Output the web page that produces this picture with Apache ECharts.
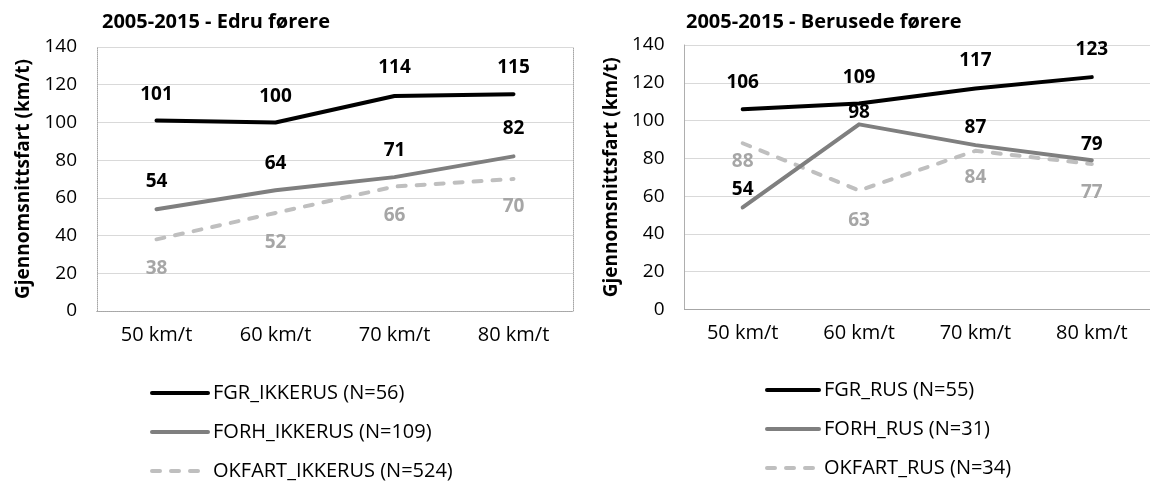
<!DOCTYPE html>
<html>
<head>
<meta charset="utf-8">
<script src="https://cdn.jsdelivr.net/npm/echarts@6/dist/echarts.min.js"></script>
<style>html,body{margin:0;padding:0;background:#fff}#c{width:1150px;height:481px}</style>
</head>
<body>
<div id="c"></div>
<script>
// ---- data ----
const categories = ['50 km/t', '60 km/t', '70 km/t', '80 km/t'];
const titleLeft = '2005-2015 - Edru førere';
const titleRight = '2005-2015 - Berusede førere';
const yAxisTitle = 'Gjennomsnittsfart (km/t)';

const edruNames = ['FGR_IKKERUS (N=56)', 'FORH_IKKERUS (N=109)', 'OKFART_IKKERUS (N=524)'];
const edruFGR = [101, 100, 114, 115];
const edruFORH = [54, 64, 71, 82];
const edruOKFART = [38, 52, 66, 70];

const rusNames = ['FGR_RUS (N=55)', 'FORH_RUS (N=31)', 'OKFART_RUS (N=34)'];
const rusFGR = [106, 109, 117, 123];
const rusFORH = [54, 98, 87, 79];
const rusOKFART = [88, 63, 84, 77];

// ---- label placement (vertical offsets of value labels, px) ----
const offEdru = [[-26, -26, -28, -27], [-28, -27, -27, -28], [29, 30, 29, 28]];
const offRus = [[-27, -26, -28, -28], [-18, -12, -18, -16], [18, 30, 27, 29]];

const FONT = 'Open Sans';
const colors = ['#000000', '#7f7f7f', '#bfbfbf'];
const labelColors = ['#000000', '#000000', '#a6a6a6'];
const BORDER = '#a6a6a6';

function mkData(vals, offs) {
  return vals.map((v, i) => ({ value: v, label: { offset: [0, offs[i]] } }));
}

function mkSeries(name, vals, offs, k, axisIdx) {
  return {
    type: 'line', name: name,
    xAxisIndex: axisIdx, yAxisIndex: axisIdx,
    data: mkData(vals, offs),
    symbol: 'circle', symbolSize: 0.1, showSymbol: true,
    itemStyle: { color: colors[k] },
    lineStyle: {
      color: colors[k], width: 4, cap: 'round', join: 'round',
      type: k === 2 ? [8, 11] : 'solid'
    },
    label: {
      show: true, position: 'inside',
      color: labelColors[k], fontFamily: FONT, fontWeight: 'bold', fontSize: 19
    },
    emphasis: { disabled: true },
    animation: false, z: 3 - k
  };
}

const grids = [
  { left: 97, top: 47, width: 476, height: 264 },
  { left: 684.5, top: 45, width: 476, height: 264.5 }
];

const xAxes = [], yAxes = [];
[0, 1].forEach(g => {
  xAxes.push({
    type: 'category', gridIndex: g, data: categories, boundaryGap: true,
    axisLine: { show: true, lineStyle: { color: BORDER, type: 'dotted', width: 1 } },
    axisTick: { show: false },
    axisLabel: { color: '#000', fontFamily: FONT, fontSize: 20, margin: 14 }
  });
  yAxes.push({
    type: 'value', gridIndex: g, min: 0, max: 140, interval: 20,
    name: yAxisTitle, nameLocation: 'middle', nameGap: g === 0 ? 64 : 63,
    nameTextStyle: { color: '#000', fontFamily: FONT, fontWeight: 'bold', fontSize: 19 },
    axisLine: { show: true, lineStyle: { color: BORDER, type: 'dotted', width: 1 } },
    axisTick: { show: false },
    axisLabel: { color: '#000', fontFamily: FONT, fontSize: 19, margin: 20 },
    splitLine: { show: true, lineStyle: { color: '#d9d9d9', width: 1 } }
  });
});
// border axes (top and right edges of plot areas)
[0, 1].forEach(g => {
  xAxes.push({
    type: 'category', gridIndex: g, data: categories, position: 'top',
    axisLine: { show: true, lineStyle: { color: BORDER, type: 'dotted', width: 1 } },
    axisTick: { show: false }, axisLabel: { show: false }, splitLine: { show: false }
  });
  yAxes.push({
    type: 'value', gridIndex: g, min: 0, max: 140, interval: 20, position: 'right',
    axisLine: { show: true, lineStyle: { color: BORDER, type: 'dotted', width: 1 } },
    axisTick: { show: false }, axisLabel: { show: false }, splitLine: { show: false }
  });
});

const legendCommon = {
  orient: 'vertical', itemHeight: 14, itemGap: 19, padding: 0,
  itemStyle: { opacity: 0 },
  lineStyle: { width: 4 },
  textStyle: { color: '#000', fontFamily: FONT, fontSize: 20, lineHeight: 19 },
  selectedMode: false
};

const option = {
  backgroundColor: '#fff',
  animation: false,
  title: [
    { text: titleLeft, left: 102, top: 12, padding: 0,
      textStyle: { color: '#000', fontFamily: FONT, fontWeight: 'bold', fontSize: 20 } },
    { text: titleRight, left: 686, top: 12, padding: 0,
      textStyle: { color: '#000', fontFamily: FONT, fontWeight: 'bold', fontSize: 20 } }
  ],
  grid: grids,
  xAxis: xAxes,
  yAxis: yAxes,
  legend: [
    Object.assign({}, legendCommon, { data: edruNames, left: 150, top: 383, itemWidth: 56 }),
    Object.assign({}, legendCommon, { data: rusNames, left: 765, top: 380, itemWidth: 52 })
  ],
  series: [
    mkSeries(edruNames[0], edruFGR, offEdru[0], 0, 0),
    mkSeries(edruNames[1], edruFORH, offEdru[1], 1, 0),
    mkSeries(edruNames[2], edruOKFART, offEdru[2], 2, 0),
    mkSeries(rusNames[0], rusFGR, offRus[0], 0, 1),
    mkSeries(rusNames[1], rusFORH, offRus[1], 1, 1),
    mkSeries(rusNames[2], rusOKFART, offRus[2], 2, 1)
  ]
};

const chart = echarts.init(document.getElementById('c'), null, { renderer: 'canvas' });
chart.setOption(option);
</script>
</body>
</html>
